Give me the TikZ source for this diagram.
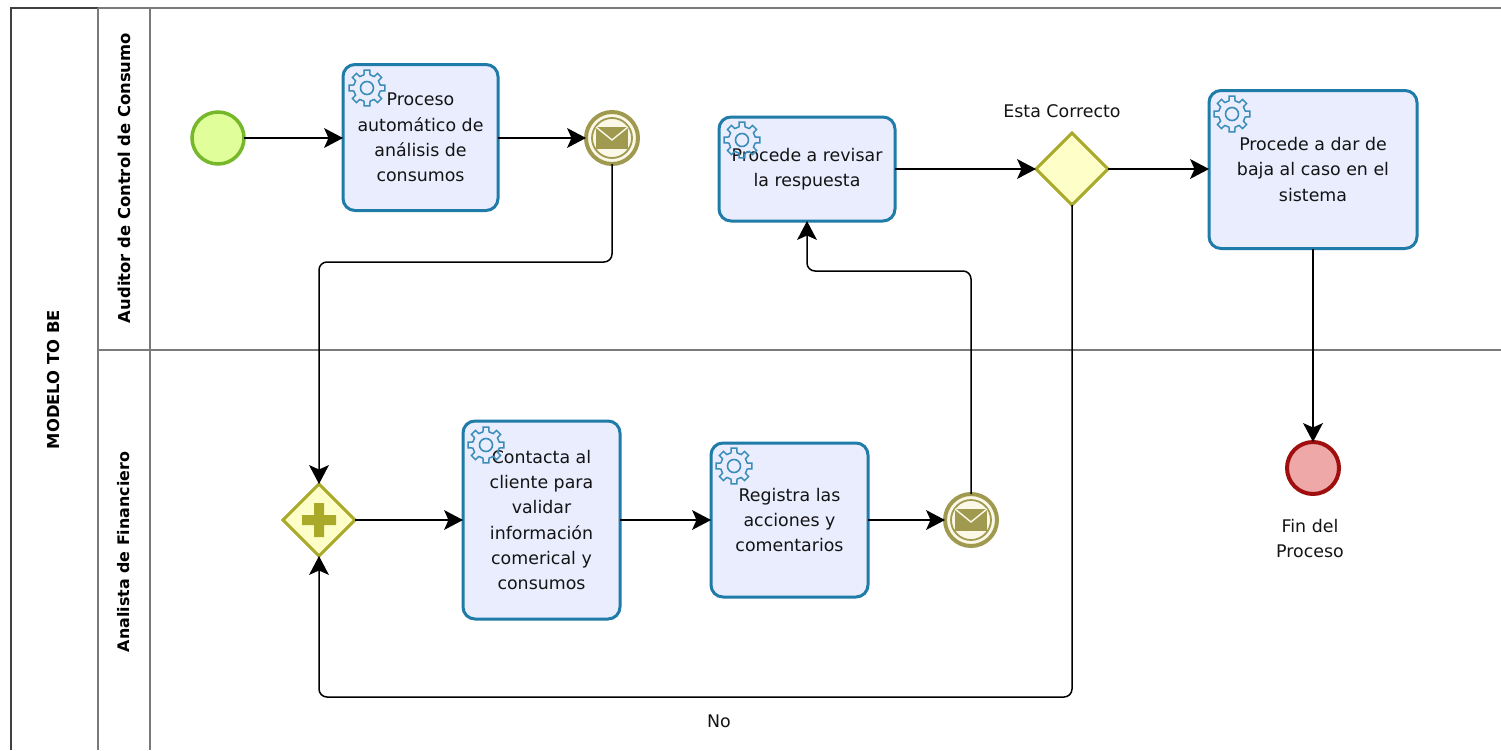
\documentclass[tikz,border=0pt]{standalone}
\usepackage{fontspec}
\setmainfont{DejaVu Sans}
\usetikzlibrary{arrows.meta,shapes.geometric,calc}
\definecolor{taskfill}{HTML}{E9EDFE}
\definecolor{taskline}{HTML}{1F7BA8}
\definecolor{gearline}{HTML}{3A8DB8}
\definecolor{gwfill}{HTML}{FEFEC8}
\definecolor{gwline}{HTML}{A9A92A}
\definecolor{msgline}{HTML}{A09A50}
\definecolor{msgfill}{HTML}{FBF8E8}
\definecolor{lanegray}{HTML}{7A7A7A}
\definecolor{startfill}{HTML}{E0FF9B}
\definecolor{startline}{HTML}{76B82A}
\definecolor{endfill}{HTML}{EFA8A8}
\definecolor{endline}{HTML}{A00F0F}
\newcommand{\lbl}{\fontsize{17.4}{25.2}\selectfont}
\pgfdeclarearrow{
  name=FlowTip,
  setup code={
    \pgfarrowssettipend{0pt}
    \pgfarrowssetlineend{-12pt}
    \pgfarrowssetbackend{-19pt}
  },
  drawing code={
    \pgfsetcornersarced{\pgfpointorigin}
    \pgfsetbuttcap
    \pgfpathmoveto{\pgfqpoint{0pt}{0pt}}
    \pgfpathlineto{\pgfqpoint{-19pt}{10pt}}
    \pgfpathlineto{\pgfqpoint{-14.5pt}{0pt}}
    \pgfpathlineto{\pgfqpoint{-19pt}{-10pt}}
    \pgfpathclose
    \pgfusepathqfill
  }
}
\tikzset{
  x=1pt,y=-1pt,
  task/.style={draw=taskline,fill=taskfill,line width=3pt,rounded corners=12pt,align=center,
     font=\lbl,text=black!92,inner sep=0pt,outer sep=0pt,anchor=center},
  gateway/.style={diamond,aspect=1,draw=gwline,fill=gwfill,line width=3pt,minimum size=72pt,inner sep=0pt,outer sep=0pt},
  eventnode/.style={circle,inner sep=0pt,outer sep=0pt,minimum size=52pt},
  flow/.style={draw=black,line width=1.5pt,rounded corners=8pt,-{FlowTip}},
  lane/.style={draw=lanegray,line width=1.4pt},
  lanetitle/.style={rotate=90,font=\fontsize{16.4}{20}\selectfont\bfseries,text=black},
  free/.style={font=\lbl,align=center,text=black!92},
  gear/.pic={
    \draw[gearline,line width=1.5pt]
      (-12:14) \foreach \a in {0,45,...,315}{
        -- (\a-13:13.5) -- (\a-9:18) -- (\a+9:18) -- (\a+13:13.5) -- (\a+32:13.5)} -- cycle;
    \draw[gearline,line width=1.6pt] (0,0) circle (6.5);
  },
  envelope/.pic={
    \fill[msgline] (-16,-11) rectangle (16,11);
    \draw[msgfill,line width=1.4pt] (-16,-11) -- (0,2) -- (16,-11);
  }
}
\begin{document}
\begin{tikzpicture}
\useasboundingbox[fill=white] (0,0) rectangle (1501,750);
% pool and lanes
\draw[draw=black!75,line width=1.6pt] (11,750) -- (11,8) -- (98,8);
\draw[lane] (98,8) -- (1501,8);
\draw[lane] (98,8) -- (98,750);
\draw[lane] (150,8) -- (150,750);
\draw[lane] (98,350) -- (1501,350);
\node[lanetitle] (pooltitle) at (54,379.5) {MODELO TO BE};
\node[lanetitle] (lane1) at (124,178) {Auditor de Control de Consumo};
\node[lanetitle,font=\fontsize{15.9}{20}\selectfont\bfseries] (lane2) at (124,552) {Analista de Financiero};
% events
\node[eventnode,draw=startline,fill=startfill,line width=3.5pt] (start) at (218,138) {};
\node[eventnode,draw=endline,fill=endfill,line width=4pt] (finish) at (1313,468) {};
\node[eventnode,draw=msgline,fill=msgfill,line width=4pt] (msg1) at (612,138) {};
\draw[msgline,line width=1.8pt] (612,138) circle (20);
\pic at (612,138) {envelope};
\node[eventnode,draw=msgline,fill=msgfill,line width=4pt] (msg2) at (971,520) {};
\draw[msgline,line width=1.8pt] (971,520) circle (20);
\pic at (971,520) {envelope};
% tasks
\node[task,minimum width=155pt,minimum height=146pt] (t1) at (420.5,137.5) {Proceso\\automático de\\análisis de\\consumos};
\node[task,minimum width=176pt,minimum height=104pt] (t2) at (807,169) {Procede a revisar\\la respuesta};
\node[task,minimum width=208pt,minimum height=158pt] (t3) at (1313,169.5) {Procede a dar de\\baja al caso en el\\sistema};
\node[task,minimum width=157pt,minimum height=198pt] (t4) at (541.5,520) {Contacta al\\cliente para\\validar\\información\\comerical y\\consumos};
\node[task,minimum width=157pt,minimum height=154pt] (t5) at (789.5,520) {Registra las\\acciones y\\comentarios};
\pic at (367,88) {gear};
\pic at (742,140) {gear};
\pic at (1232,114) {gear};
\pic at (486,445) {gear};
\pic at (734,466) {gear};
% gateways
\node[gateway] (plus) at (319,520) {};
\fill[gwline] (302,515) rectangle (336,525) (314,503) rectangle (324,537);
\node[gateway] (gw) at (1072,169) {};
% labels
\node[free] (gwlabel) at (1062,111) {Esta Correcto};
\node[free] (endlabel) at (1310,538.5) {Fin del\\Proceso};
\node[free] (nolabel) at (719,721) {No};
% connectors
\coordinate (r1) at (319,262);
\coordinate (r2) at (807,271);
\coordinate (r3) at (319,697);
\draw[flow] (start.east) -- (start.east -| t1.west);
\draw[flow] (t1.east |- msg1.west) -- (msg1.west);
\draw[flow] (msg1.south) -- (msg1.south |- r1) -- (r1) -- (plus.north);
\draw[flow] (plus.east) -- (plus.east -| t4.west);
\draw[flow] (t4.east) -- (t5.west);
\draw[flow] (t5.east) -- (msg2.west);
\draw[flow] (msg2.north) -- (msg2.north |- r2) -- (r2) -- (t2.south);
\draw[flow] (t2.east) -- (t2.east -| gw.west);
\draw[flow] (gw.east) -- (gw.east -| t3.west);
\draw[flow] (gw.south) -- (gw.south |- r3) -- (r3) -- (plus.south);
\draw[flow] (t3.south) -- (finish.north);
\end{tikzpicture}
\end{document}
